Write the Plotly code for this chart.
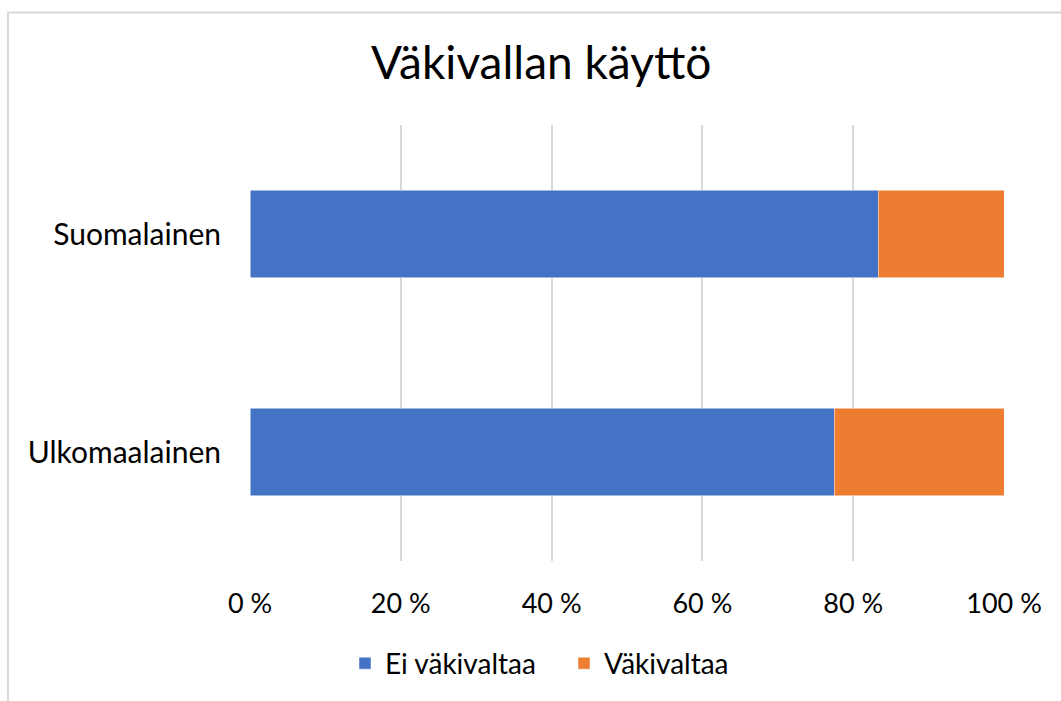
import plotly.graph_objects as go

# Data
groups = ['Ulkomaalainen', 'Suomalainen']
ei_vakivaltaa = [77.5, 83.3]
vakivaltaa = [22.5, 16.7]
tick_vals = [0, 20, 40, 60, 80, 100]
tick_text = ['0 %', '20 %', '40 %', '60 %', '80 %', '100 %']

font_family = 'Lato, Open Sans, sans-serif'

trace1 = go.Bar(y=groups, x=ei_vakivaltaa, orientation='h', name='Ei väkivaltaa',
                marker=dict(color='#4472C4', line=dict(color='white', width=0.5)))
trace2 = go.Bar(y=groups, x=vakivaltaa, orientation='h', name='Väkivaltaa',
                marker=dict(color='#ED7D31', line=dict(color='white', width=0.5)))

layout = go.Layout(
    width=1061, height=701,
    barmode='stack', bargap=0.6,
    plot_bgcolor='white', paper_bgcolor='white',
    margin=dict(l=250, r=57, t=125, b=138),
    font=dict(family=font_family, color='black'),
    title=dict(text='Väkivallan käyttö', x=0.51, xanchor='center', y=0.91, yanchor='middle',
               font=dict(size=46, family=font_family, color='black')),
    xaxis=dict(range=[0, 100], tickvals=tick_vals, ticktext=tick_text,
               showgrid=True, gridcolor='#D9D9D9', gridwidth=2, zeroline=False,
               showline=False, ticks='', ticklabelstandoff=24,
               tickfont=dict(size=27, family=font_family, color='black')),
    yaxis=dict(showgrid=False, showline=False, ticks='', ticklabelstandoff=28,
               tickfont=dict(size=30, family=font_family, color='black')),
    legend=dict(orientation='h', x=0.126, xanchor='left', y=-0.235, yanchor='middle',
                font=dict(size=28, family=font_family, color='black'),
                entrywidth=174, entrywidthmode='pixels', traceorder='normal'),
    shapes=[dict(type='rect', xref='paper', yref='paper',
                 x0=-0.321, x1=1.2, y0=-0.5, y1=1.258,
                 line=dict(color='#D9D9D9', width=2), fillcolor='rgba(0,0,0,0)', layer='below')],
)

fig = go.Figure(data=[trace1, trace2], layout=layout)
# drop the default page margin so the figure sits at the window's top-left corner
fig.write_html('out.html', config={'displayModeBar': False},
               post_script="document.body.style.margin='0';")
